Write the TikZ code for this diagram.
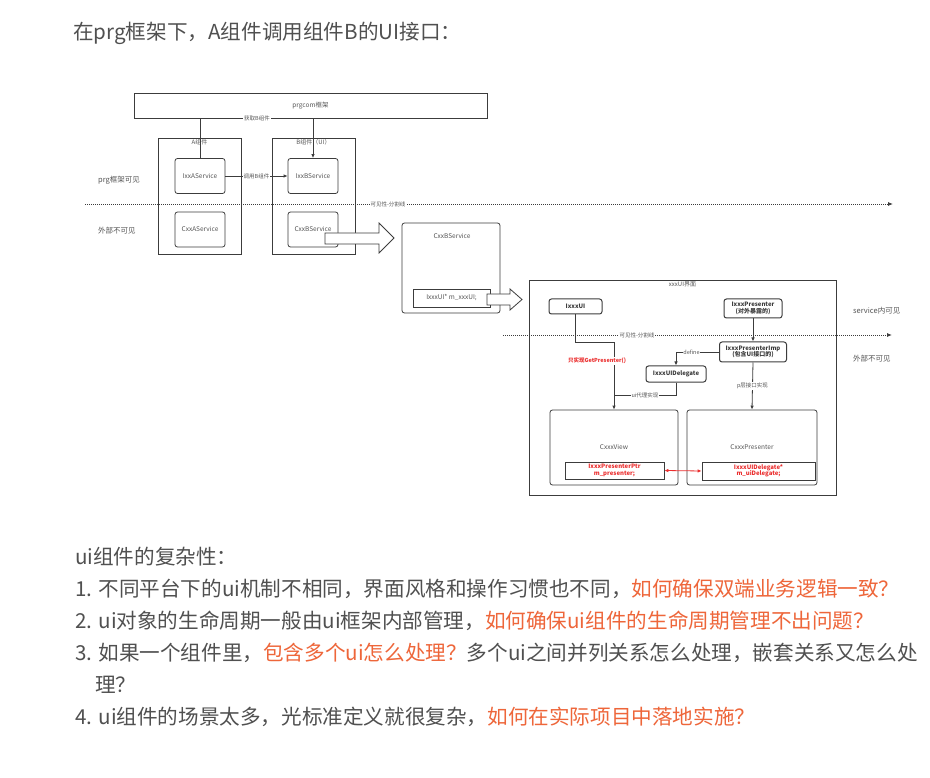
\documentclass[tikz,border=0pt]{standalone}
\usepackage{fontspec}
\setmainfont{Noto Sans CJK SC}
\usetikzlibrary{arrows.meta,calc}
\definecolor{PrgLine}{RGB}{60,60,60}
\definecolor{PrgText}{RGB}{85,85,85}
\definecolor{PrgBody}{RGB}{80,80,80}
\definecolor{PrgOrange}{RGB}{238,102,58}
\definecolor{PrgRed}{RGB}{235,45,45}
\tikzset{
  prg/frame/.style={
    draw=PrgLine,
    line width=0.7pt,
    inner sep=0pt,
    text=PrgText,
    font=\fontsize{6.5}{7}\selectfont
  },
  prg/box/.style={
    draw=PrgLine,
    line width=0.8pt,
    rounded corners=2.5pt,
    fill=white,
    align=center,
    text=PrgText,
    inner sep=0pt,
    font=\fontsize{6.5}{7}\selectfont
  },
  prg/boldbox/.style={
    prg/box,
    line width=1pt,
    text=PrgLine,
    font=\fontsize{6}{6.5}\selectfont\bfseries
  },
  prg/redbox/.style={
    draw=PrgLine,
    line width=0.8pt,
    fill=white,
    align=center,
    text=PrgRed,
    inner sep=0pt,
    font=\fontsize{6}{6.5}\selectfont\bfseries
  },
  prg/arrow/.style={-{Latex[length=4pt,width=3.5pt]}, line width=0.8pt, draw=PrgLine},
  prg/line/.style={line width=0.8pt, draw=PrgLine},
  prg/divider/.style={-{Latex[length=5pt,width=4pt]}, line width=0.8pt, draw=PrgLine, dash pattern=on 1pt off 1pt},
  prg/hollow/.style={draw=PrgLine, line width=0.8pt, fill=white, line join=miter},
  prg/redarrow/.style={{Latex[length=4pt,width=3.5pt]}-{Latex[length=4pt,width=3.5pt]}, line width=0.8pt, draw=PrgRed},
  prg/tinylabel/.style={font=\fontsize{5.5}{6}\selectfont, text=PrgText, fill=white, inner sep=0.8pt},
  prg/framelabel/.style={font=\fontsize{6}{6.5}\selectfont, text=PrgText, anchor=north, inner sep=2pt},
  prg/sidelabel/.style={font=\fontsize{7.5}{8}\selectfont, text=PrgText, anchor=west, inner sep=0pt},
  prg/body/.style={font=\fontsize{20.6}{21}\selectfont, text=PrgBody, anchor=west, inner sep=0pt}
}
\begin{document}
\begin{tikzpicture}[x=1pt,y=-1pt]
  \useasboundingbox[fill=white] (0,0) rectangle (930,778);
  \node[prg/body] (title) at (73,33) {在prg框架下，A组件调用组件B的UI接口：};

  % prg framework layer
  \node[prg/frame, minimum width=353pt, minimum height=25pt] (prgcom) at (310.5,105.5) {prgcom框架};
  \node[prg/frame, minimum width=83pt, minimum height=116pt] (compA) at (199.5,196) {};
  \node[prg/framelabel] (compAlbl) at (compA.north) {A组件};
  \node[prg/frame, minimum width=83pt, minimum height=116pt] (compB) at (313.5,196) {};
  \node[prg/framelabel] (compBlbl) at (compB.north) {B组件（UI）};
  \node[prg/box, minimum width=50pt, minimum height=35pt] (IxxA) at (200,176) {IxxAService};
  \node[prg/box, minimum width=50pt, minimum height=35pt] (IxxB) at (313,176) {IxxBService};
  \node[prg/box, minimum width=50pt, minimum height=35pt] (CxxA) at (200,229.5) {CxxAService};
  \node[prg/box, minimum width=50pt, minimum height=35pt] (CxxB) at (313,229.5) {CxxBService};
  \draw[prg/arrow] (IxxA.north) |- (prgcom.south) -| (IxxB.north);
  \node[prg/tinylabel] (fetchlbl) at (257,118) {获取B组件};
  \draw[prg/arrow] (IxxA.east) -- node[prg/tinylabel] {调用B组件} (IxxB.west);

  \node[prg/sidelabel] (prgvis) at (98,180) {prg框架可见};
  \node[prg/sidelabel] (outvis) at (98,231) {外部不可见};
  \coordinate (div1a) at (85,204);
  \coordinate (div1b) at (893,204);
  \draw[prg/divider] (div1a) -- (div1b);
  \node[prg/tinylabel] (div1lbl) at (388,204) {可见性-分割线};

  % CxxBService implementation
  \draw[prg/hollow] (325,233) -- (379,233) -- (379,223) -- (394,238) -- (379,253) -- (379,244) -- (325,244) -- cycle;
  \node[prg/box, minimum width=98pt, minimum height=90pt] (CxxBImpl) at (451,268) {};
  \node[prg/tinylabel, fill=none, font=\fontsize{6.5}{7}\selectfont] (CxxBImpllbl) at (452,236) {CxxBService};
  \node[prg/frame, fill=white, minimum width=77pt, minimum height=18pt] (xxxUIptr) at (451.5,298) {IxxxUI* m\_xxxUI;};
  \draw[prg/hollow] (487,294) -- (510,294) -- (510,289) -- (522,299.5) -- (510,310) -- (510,305) -- (487,305) -- cycle;

  % xxxUI layer
  \node[prg/frame, minimum width=307pt, minimum height=215pt] (uiframe) at (682.5,387.5) {};
  \node[prg/framelabel] (uiframelbl) at (uiframe.north) {xxxUI界面};
  \coordinate (div2a) at (503,335);
  \coordinate (div2b) at (892,335);
  \draw[prg/divider] (div2a) -- (div2b);
  \node[prg/tinylabel] (div2lbl) at (637,335) {可见性-分割线};
  \node[prg/sidelabel] (svcvis) at (853,311) {service内可见};
  \node[prg/sidelabel] (outvis2) at (853,359) {外部不可见};

  \node[prg/boldbox, minimum width=53pt, minimum height=15pt] (IxxxUI) at (575.5,306.5) {IxxxUI};
  \node[prg/boldbox, minimum width=58pt, minimum height=19pt] (IxxxPresenter) at (753,308.5) {IxxxPresenter\\(对外暴露的)};
  \node[prg/boldbox, minimum width=67pt, minimum height=20pt] (IxxxPresenterImp) at (753,352) {IxxxPresenterImp\\(包含UI接口的)};
  \node[prg/boldbox, minimum width=60pt, minimum height=16pt] (IxxxUIDelegate) at (676,374) {IxxxUIDelegate};
  \node[prg/box, minimum width=128pt, minimum height=75pt] (CxxxView) at (614,447.5) {CxxxView};
  \node[prg/box, minimum width=130pt, minimum height=75pt] (CxxxPresenter) at (752,447.5) {CxxxPresenter};
  \node[prg/redbox, minimum width=99pt, minimum height=17pt] (presenterPtr) at (614.5,470.5) {IxxxPresenterPtr\\m\_presenter;};
  \node[prg/redbox, minimum width=113pt, minimum height=18pt] (uiDelegatePtr) at (758.5,471) {IxxxUIDelegate*\\m\_uiDelegate;};

  \draw[prg/arrow] (IxxxPresenter.south) -- (IxxxPresenterImp.north);
  \draw[prg/arrow] (IxxxPresenterImp.west) -| node[pos=0.32, prg/tinylabel] {define} (IxxxUIDelegate.north);
  \draw[prg/arrow] (IxxxUI.south) -- ++(0,28) -| (CxxxView.north);
  \node[prg/tinylabel, text=PrgRed, font=\fontsize{5.5}{6}\selectfont\bfseries] (getPresenterlbl) at (597,361) {只实现GetPresenter()};
  \coordinate (uijoin) at (614,395);
  \draw[prg/line] (IxxxUIDelegate.south) |- node[pos=0.75, prg/tinylabel] {ui代理实现} (uijoin);
  \draw[prg/arrow] (IxxxPresenterImp.south) -- node[prg/tinylabel] {p层接口实现} (CxxxPresenter.north);
  \draw[prg/redarrow] (presenterPtr.east) -- (uiDelegatePtr.west);

  % notes below the diagram
  \node[prg/body] (cplxhead) at (75,557) {ui组件的复杂性：};
  \node[prg/body] (item1) at (75,589) {1. 不同平台下的ui机制不相同，界面风格和操作习惯也不同，\textcolor{PrgOrange}{如何确保双端业务逻辑一致？}};
  \node[prg/body] (item2) at (75,621) {2. ui对象的生命周期一般由ui框架内部管理，\textcolor{PrgOrange}{如何确保ui组件的生命周期管理不出问题？}};
  \node[prg/body] (item3) at (75,653) {3. 如果一个组件里，\textcolor{PrgOrange}{包含多个ui怎么处理？}多个ui之间并列关系怎么处理，嵌套关系又怎么处};
  \node[prg/body] (item3b) at (95,685) {理？};
  \node[prg/body] (item4) at (75,717) {4. ui组件的场景太多，光标准定义就很复杂，\textcolor{PrgOrange}{如何在实际项目中落地实施？}};
\end{tikzpicture}
\end{document}
